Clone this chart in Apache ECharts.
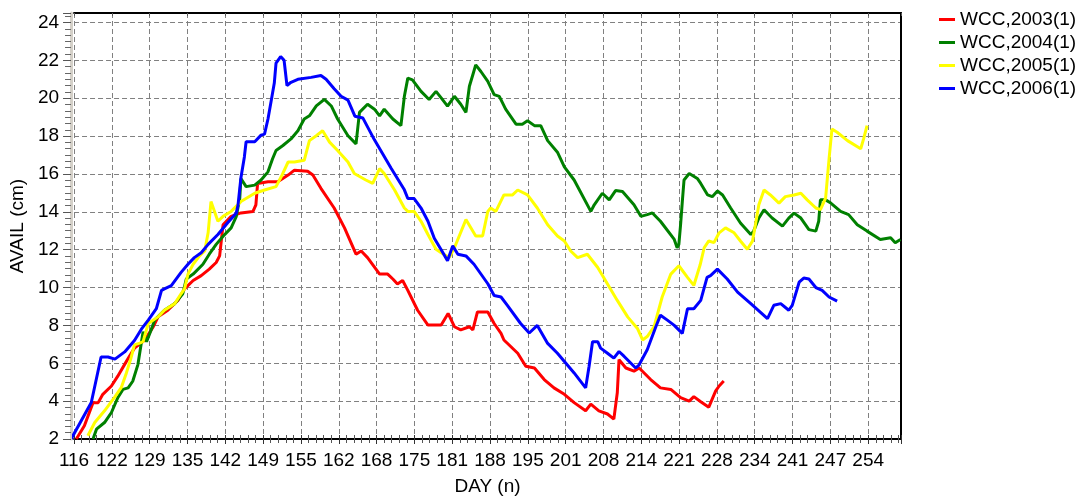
<!DOCTYPE html>
<html>
<head>
<meta charset="utf-8">
<script src="https://cdn.jsdelivr.net/npm/echarts@6.0.0/dist/echarts.min.js"></script>
<style>
html, body { margin: 0; padding: 0; background: #fff; }
#chart { width: 1075px; height: 501px; }
</style>
</head>
<body>
<div id="chart"></div>
<script>
// tick labels printed under the day axis
var dayTickLabels = ['116', '122', '129', '135', '142', '149', '155', '162', '168', '175', '181',
  '188', '195', '201', '208', '214', '221', '228', '234', '241', '247', '254']

var seriesNames = ['WCC,2003(1)', 'WCC,2004(1)', 'WCC,2005(1)', 'WCC,2006(1)']

// [day, AVAIL cm]
var wcc2003 = [[116.4, 2.0], [117.8, 2.7], [119.3, 3.92], [120.2, 3.92], [121.0, 4.36], [122.5, 4.8],
  [123.6, 5.32], [125.1, 6.1], [126.5, 6.8], [128.3, 7.23], [129.8, 7.95], [130.6, 8.45], [132.3, 8.8],
  [134.05, 9.32], [135.2, 9.93], [136.7, 10.37], [138.1, 10.63], [139.5, 10.97], [140.7, 11.32],
  [141.3, 11.67], [141.9, 13.32], [143.3, 13.76], [145.0, 13.94], [147.1, 14.02], [147.6, 14.37],
  [147.9, 15.5], [149.7, 15.59], [151.4, 15.59], [153.2, 15.94], [154.3, 16.2], [156.6, 16.14],
  [157.5, 15.94], [158.9, 15.24], [161.2, 14.2], [163.0, 13.15], [165.0, 11.76], [165.9, 11.93],
  [167.0, 11.58], [169.1, 10.71], [170.5, 10.71], [171.4, 10.45], [172.2, 10.19], [173.1, 10.37],
  [174.0, 9.85], [175.7, 8.8], [177.5, 8.02], [179.8, 8.02], [181.0, 8.63], [182.1, 7.93], [183.2, 7.76],
  [184.7, 7.93], [185.3, 7.76], [186.1, 8.71], [187.9, 8.71], [189.0, 8.1], [190.2, 7.58], [190.7, 7.23],
  [193.1, 6.53], [194.5, 5.84], [196.0, 5.75], [197.7, 5.14], [199.4, 4.7], [201.2, 4.36], [202.9, 3.92],
  [204.9, 3.49], [205.8, 3.84], [207.2, 3.49], [208.7, 3.32], [209.8, 3.05], [210.4, 4.44], [210.7, 6.19],
  [211.9, 5.75], [213.3, 5.58], [214.2, 5.75], [216.2, 5.14], [217.9, 4.7], [219.7, 4.62], [221.4, 4.18],
  [222.9, 4.0], [223.7, 4.24], [224.9, 3.97], [226.3, 3.68], [226.6, 3.58], [227.5, 4.54], [228.1, 4.8],
  [228.9, 5.06]]

var wcc2004 = [[119.3, 2.0], [119.9, 2.52], [121.3, 2.87], [122.5, 3.4], [123.6, 4.18], [124.5, 4.62],
  [125.4, 4.7], [126.2, 5.05], [127.1, 5.93], [128.0, 7.67], [128.6, 7.14], [129.4, 7.76], [130.0, 8.28],
  [131.7, 8.8], [133.5, 9.15], [134.9, 9.67], [135.5, 10.45], [136.7, 10.71], [138.4, 11.23], [139.5, 11.76],
  [140.7, 12.28], [141.9, 12.71], [143.3, 13.15], [144.2, 13.76], [144.8, 14.72], [145.0, 15.76],
  [145.9, 15.33], [147.4, 15.41], [148.5, 15.68], [149.7, 16.11], [150.5, 16.8], [151.1, 17.24],
  [152.3, 17.5], [153.7, 17.85], [154.9, 18.28], [156.0, 18.9], [156.9, 19.07], [158.1, 19.59],
  [159.5, 19.94], [160.7, 19.59], [161.8, 18.9], [163.6, 18.02], [165.0, 17.59], [165.6, 19.25],
  [167.0, 19.68], [168.2, 19.42], [169.1, 19.07], [169.9, 19.42], [171.4, 18.9], [172.8, 18.55],
  [173.4, 20.1], [174.0, 21.06], [174.8, 20.97], [176.3, 20.36], [177.7, 19.93], [178.9, 20.36],
  [179.8, 20.02], [180.9, 19.58], [182.1, 20.1], [183.2, 19.68], [184.1, 19.25], [184.7, 20.63],
  [185.3, 21.24], [185.8, 21.76], [186.7, 21.41], [187.9, 20.89], [189.0, 20.19], [189.9, 20.1],
  [191.0, 19.42], [192.8, 18.63], [193.9, 18.63], [194.8, 18.81], [196.0, 18.55], [197.1, 18.55],
  [198.3, 17.76], [200.0, 17.15], [201.2, 16.37], [202.9, 15.68], [205.8, 14.02], [206.4, 14.37],
  [207.8, 14.98], [209.0, 14.63], [210.1, 15.12], [211.3, 15.07], [213.3, 14.37], [214.5, 13.76],
  [215.6, 13.85], [216.5, 13.94], [217.9, 13.5], [220.3, 12.54], [220.8, 12.1], [221.1, 12.28],
  [221.4, 13.32], [221.7, 14.54], [222.0, 15.68], [222.9, 16.02], [224.3, 15.76], [224.9, 15.5],
  [226.1, 14.89], [226.9, 14.8], [227.8, 15.1], [228.7, 14.89], [230.1, 14.2], [231.8, 13.41],
  [233.6, 12.8], [234.1, 12.98], [235.0, 13.67], [235.9, 14.11], [237.3, 13.67], [239.1, 13.24],
  [240.2, 13.67], [241.1, 13.93], [242.3, 13.67], [243.7, 13.06], [244.9, 12.98], [245.4, 13.5],
  [245.7, 14.63], [246.6, 14.63], [247.5, 14.46], [249.2, 14.02], [250.6, 13.85], [252.1, 13.32],
  [253.8, 12.98], [256.1, 12.54], [257.9, 12.63], [258.7, 12.37], [259.6, 12.54]]

var wcc2005 = [[118.4, 2.17], [119.6, 2.87], [121.3, 3.49], [123.0, 4.18], [124.2, 4.71], [125.1, 5.49],
  [125.9, 6.28], [126.5, 6.97], [127.4, 7.06], [128.0, 7.14], [128.9, 8.1], [130.6, 8.45], [131.7, 8.8],
  [133.5, 9.15], [134.6, 9.67], [135.2, 9.93], [135.8, 10.71], [136.7, 11.23], [137.8, 11.67],
  [138.7, 11.93], [139.3, 12.89], [139.8, 14.54], [141.0, 13.5], [141.9, 13.76], [143.3, 14.02],
  [145.0, 14.54], [147.4, 14.98], [149.1, 15.15], [151.1, 15.33], [152.0, 15.85], [153.2, 16.63],
  [154.3, 16.63], [156.0, 16.72], [156.9, 17.76], [158.1, 18.02], [159.2, 18.28], [160.4, 17.68],
  [161.8, 17.24], [163.6, 16.63], [164.7, 16.02], [166.7, 15.68], [167.9, 15.5], [169.1, 16.28],
  [169.9, 16.02], [171.7, 15.15], [173.4, 14.2], [174.0, 14.02], [175.1, 14.02], [176.3, 13.5],
  [177.5, 12.8], [178.9, 12.02], [179.8, 11.84], [181.2, 11.58], [182.1, 12.1], [184.1, 13.59],
  [185.8, 12.72], [187.0, 12.72], [187.9, 14.02], [188.4, 14.2], [189.3, 14.02], [190.7, 14.89],
  [192.2, 14.89], [193.1, 15.15], [194.8, 14.89], [196.5, 14.2], [198.3, 13.32], [200.0, 12.72],
  [201.2, 12.46], [202.3, 11.93], [203.5, 11.58], [205.2, 11.76], [207.0, 11.06], [208.7, 10.19],
  [210.4, 9.32], [212.2, 8.45], [213.9, 7.84], [214.8, 7.23], [215.6, 7.41], [216.8, 7.93], [217.1, 8.28],
  [218.2, 9.5], [219.7, 10.71], [221.1, 11.15], [222.6, 10.54], [223.7, 10.11], [224.8, 11.2],
  [225.5, 12.1], [226.3, 12.46], [227.2, 12.37], [228.1, 12.89], [229.2, 13.15], [230.7, 12.89],
  [231.8, 12.46], [233.0, 12.02], [233.9, 12.46], [234.4, 13.32], [235.0, 14.37], [235.9, 15.15],
  [237.0, 14.89], [238.5, 14.46], [239.6, 14.8], [241.1, 14.89], [242.3, 14.98], [243.4, 14.63],
  [244.9, 14.2], [245.7, 14.11], [246.6, 14.72], [246.9, 15.76], [247.2, 16.8], [247.7, 18.37],
  [248.6, 18.2], [250.4, 17.76], [252.7, 17.33], [253.2, 17.85], [253.8, 18.55]]

var wcc2006 = [[115.5, 2.0], [119.0, 3.93], [120.7, 6.33], [121.9, 6.33], [123.1, 6.22], [124.8, 6.6],
  [126.5, 7.2], [127.7, 7.8], [128.9, 8.28], [130.3, 8.88], [131.2, 9.85], [131.7, 9.93], [132.9, 10.1],
  [134.6, 10.8], [135.8, 11.23], [136.9, 11.58], [138.1, 11.84], [139.3, 12.28], [141.0, 12.8],
  [142.7, 13.42], [144.2, 13.94], [144.5, 14.37], [145.0, 15.8], [145.6, 16.9], [145.9, 17.7],
  [147.4, 17.7], [148.5, 18.05], [149.1, 18.1], [149.7, 18.9], [150.3, 19.93], [150.8, 20.8],
  [151.1, 21.85], [151.9, 22.2], [152.5, 22.0], [153.0, 20.67], [153.7, 20.84], [154.9, 21.0],
  [157.2, 21.1], [158.9, 21.2], [159.8, 21.0], [161.2, 20.5], [162.4, 20.1], [163.6, 19.9],
  [164.8, 19.05], [166.2, 18.95], [168.2, 17.8], [171.1, 16.3], [173.4, 15.16], [174.0, 14.7],
  [175.1, 14.7], [176.3, 14.2], [177.5, 13.5], [178.6, 12.6], [179.8, 12.0], [180.9, 11.41],
  [181.8, 12.2], [182.7, 11.76], [184.1, 11.67], [185.5, 11.23], [187.9, 10.2], [189.0, 9.58],
  [190.2, 9.5], [191.3, 9.06], [193.6, 8.1], [195.1, 7.6], [196.5, 8.0], [198.3, 7.05], [200.0, 6.53],
  [202.9, 5.49], [204.9, 4.7], [205.5, 5.84], [206.1, 7.14], [207.0, 7.14], [207.5, 6.8], [208.7, 6.53],
  [209.8, 6.27], [210.7, 6.62], [211.6, 6.36], [213.6, 5.75], [214.2, 5.92], [215.6, 6.71], [217.1, 7.93],
  [217.9, 8.54], [219.1, 8.28], [220.3, 8.0], [221.7, 7.58], [222.6, 8.88], [223.7, 8.88], [224.9, 9.32],
  [226.0, 10.54], [226.6, 10.63], [227.8, 10.97], [229.5, 10.45], [231.3, 9.76], [233.6, 9.15],
  [236.5, 8.36], [237.6, 9.06], [238.8, 9.15], [240.2, 8.8], [240.8, 9.06], [242.0, 10.28],
  [242.8, 10.5], [243.7, 10.45], [244.9, 10.0], [246.0, 9.85], [247.2, 9.5], [248.6, 9.28]]

var seriesData = [wcc2003, wcc2004, wcc2005, wcc2006]
var seriesColors = ['#ff0000', '#008000', '#ffff00', '#0000ff']

var font = '"Liberation Sans", Arial, sans-serif'
var dayMin = 116
var dayMax = 259.7
// ticks are spread evenly from the first to the last label
var dayStep = (Number(dayTickLabels[dayTickLabels.length - 1]) - Number(dayTickLabels[0])) / (dayTickLabels.length - 1)

function dayLabel (v) {
  var i = Math.round((v - dayMin) / dayStep)
  if (Math.abs(v - (dayMin + i * dayStep)) > 0.01) return ''
  return dayTickLabels[i] || ''
}

var chart = echarts.init(document.getElementById('chart'))

var option = {
  animation: false,
  backgroundColor: '#fff',
  textStyle: { fontFamily: font },
  grid: { left: 72, top: 13, right: 174, bottom: 57, containLabel: false },
  legend: {
    orient: 'vertical',
    left: 939,
    top: 10,
    padding: 0,
    itemGap: 4,
    itemWidth: 16,
    itemHeight: 3,
    icon: 'rect',
    selectedMode: false,
    textStyle: { fontFamily: font, fontSize: 19, lineHeight: 19, color: '#000' },
    data: seriesNames
  },
  xAxis: [{
    type: 'value',
    min: dayMin,
    max: dayMax,
    interval: dayStep,
    name: 'DAY (n)',
    nameLocation: 'middle',
    nameGap: 38,
    nameTextStyle: { fontFamily: font, fontSize: 19, color: '#000' },
    axisLine: { show: true, lineStyle: { color: '#000', width: 2 } },
    axisTick: { show: true, length: 5, lineStyle: { color: '#333' } },
    minorTick: { show: true, splitNumber: 5, length: 4, lineStyle: { color: '#555' } },
    axisLabel: { fontFamily: font, fontSize: 19, color: '#000', margin: 12, formatter: dayLabel },
    splitLine: { show: true, lineStyle: { color: '#808080', width: 1, type: [5, 3] } }
  }, {
    type: 'value',
    position: 'top',
    min: dayMin,
    max: dayMax,
    interval: dayStep,
    axisLine: { show: true, lineStyle: { color: '#000', width: 2 } },
    axisTick: { show: true, inside: true, length: 3, lineStyle: { color: '#555' } },
    axisLabel: { show: false },
    splitLine: { show: false }
  }, {
    // inner half of the ticks that cross the bottom axis
    type: 'value',
    position: 'bottom',
    min: dayMin,
    max: dayMax,
    interval: dayStep,
    axisLine: { show: false },
    axisTick: { show: true, inside: true, length: 4, lineStyle: { color: '#333' } },
    minorTick: { show: true, splitNumber: 5, length: 4, lineStyle: { color: '#555' } },
    axisLabel: { show: false },
    splitLine: { show: false }
  }],
  yAxis: [{
    type: 'value',
    min: 2,
    max: 24.5,
    interval: 2,
    offset: 3,
    name: 'AVAIL (cm)',
    nameLocation: 'middle',
    nameRotate: 90,
    nameGap: 40,
    nameTextStyle: { fontFamily: font, fontSize: 19, color: '#000' },
    axisLine: { show: true, lineStyle: { color: '#d4d0c8', width: 3 } },
    axisTick: { show: true, length: 8, lineStyle: { color: '#555' } },
    minorTick: { show: true, splitNumber: 6, length: 6, lineStyle: { color: '#666' } },
    axisLabel: {
      fontFamily: font, fontSize: 19, color: '#000', margin: 12,
      formatter: function (v) { return v % 2 === 0 ? String(v) : '' }
    },
    splitLine: { show: true, lineStyle: { color: '#808080', width: 1, type: [5, 3] } }
  }, {
    type: 'value',
    position: 'right',
    min: 2,
    max: 24.5,
    axisLine: { show: true, lineStyle: { color: '#000', width: 2 } },
    axisTick: { show: false },
    axisLabel: { show: false },
    splitLine: { show: false }
  }],
  series: []
}

for (var i = 0; i < seriesNames.length; i++) {
  option.series.push({
    name: seriesNames[i],
    type: 'line',
    data: seriesData[i],
    showSymbol: false,
    symbol: 'none',
    clip: false,
    color: seriesColors[i],
    lineStyle: { color: seriesColors[i], width: 3 },
    z: 3
  })
}

chart.setOption(option)
</script>
</body>
</html>
